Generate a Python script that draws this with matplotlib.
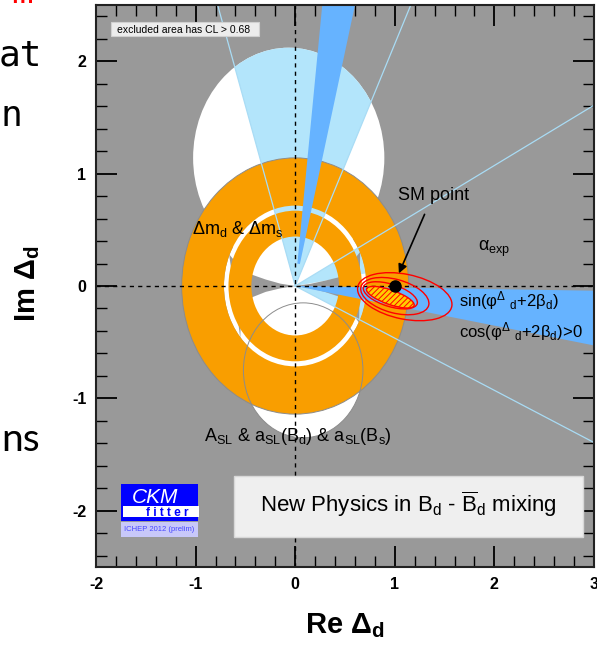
import numpy as np
import matplotlib.pyplot as plt
from matplotlib.patches import Ellipse, Wedge, Polygon, Rectangle
from matplotlib.ticker import MultipleLocator

plt.rcParams['font.family'] = ['Liberation Sans', 'DejaVu Sans']
plt.rcParams['mathtext.default'] = 'regular'
plt.rcParams['axes.unicode_minus'] = False
plt.rcParams['hatch.linewidth'] = 0.7

# ---- data ----
x_range = [-2, 3]
y_range = [-2.5, 2.5]
x_ticks = [-2, -1, 0, 1, 2, 3]
y_ticks = [-2, -1, 0, 1, 2]

# A_SL allowed region (white): two ellipses + the inner disk
asl_cx = [-0.065, 0.08]
asl_cy = [1.14, -0.75]
asl_rx = [0.96, 0.60]
asl_ry = [0.98, 0.60]
asl_disk_r = 0.715

# gray "bow tie" near the origin (radius, boundary angles in degrees)
bow_r = [0.0, 0.15, 0.30, 0.44, 0.60, 0.72]
bow_left_hi = [176, 172, 169, 167, 162, 157]
bow_left_lo = [184, 188, 190, 193, 205, 220]
bow_right_hi = [4, 7, 9, 10, 20, 25]
bow_right_lo = [-4, -8, -10, -12, -22, -27]

# delta m_d & delta m_s annuli (inner radius, outer radius)
dm_r_in = [0.44, 0.715]
dm_r_out = [0.67, 1.14]

# alpha_exp wedges and their boundary lines (degrees)
alpha_lo = [65.1, 9.0, -24.9]
alpha_hi = [107.3, 28.2, -9.0]
alpha_lines = [107.3, 65.1, 28.2, -24.9]

# sin(phi+2beta) wedges (degrees, inner radius)
sin_lo = [-10.0, 76.5]
sin_hi = [-0.8, 83.8]
sin_rmin = [0.0, 0.2]

# fit result: filled 68% region and three red contours (cx, cy, a, b, angle)
fit_fill = [0.955, -0.10, 0.25, 0.065, -17]
cont_cx = [0.955, 1.0, 1.1]
cont_cy = [-0.083, -0.09, -0.095]
cont_a = [0.28, 0.35, 0.48]
cont_b = [0.10, 0.15, 0.20]
cont_ang = [-15, -13, -10]

sm_x, sm_y = 1.0, 0.0

gray_bg = '#999999'
light_blue = '#b3e5fb'
mid_blue = '#66b3ff'
orange = '#f99e00'

fig = plt.figure(figsize=(5.97, 6.45), dpi=100)
ax = fig.add_axes([96/597, 78/645, 498/597, 562/645])
ax.set_facecolor(gray_bg)
ax.set_xlim(x_range)
ax.set_ylim(y_range)

# white A_SL region
white_patches = []
for cx, cy, rx, ry in zip(asl_cx, asl_cy, asl_rx, asl_ry):
    p = Ellipse((cx, cy), 2*rx, 2*ry, fc='white', ec='none', zorder=1)
    ax.add_patch(p)
    white_patches.append(p)
disk = Wedge((0, 0), asl_disk_r, 0, 360, fc='white', ec='none', zorder=1)
ax.add_patch(disk)
white_patches.append(disk)

# alpha wedges, only where A_SL is allowed
for wp in white_patches:
    for lo, hi in zip(alpha_lo, alpha_hi):
        w = Wedge((0, 0), 4, lo, hi, fc=light_blue, ec='none', zorder=2)
        ax.add_patch(w)
        w.set_clip_path(wp)


def bowtie(r, hi, lo):
    r = np.array(r)
    hi = np.radians(hi)
    lo = np.radians(lo)
    xs = np.concatenate([r*np.cos(hi), (r*np.cos(lo))[::-1]])
    ys = np.concatenate([r*np.sin(hi), (r*np.sin(lo))[::-1]])
    return Polygon(np.column_stack([xs, ys]), closed=True, fc=gray_bg, ec='none', zorder=3)


ax.add_patch(bowtie(bow_r, bow_left_hi, bow_left_lo))
ax.add_patch(bowtie(bow_r, bow_right_hi, bow_right_lo))

# delta m annuli
for r_in, r_out in zip(dm_r_in, dm_r_out):
    ax.add_patch(Wedge((0, 0), r_out, 0, 360, width=r_out - r_in, fc=orange,
                       ec='none', zorder=4))
ax.add_patch(Wedge((0, 0), dm_r_out[-1], 0, 360, fc='none', ec='#8c8c8c', lw=0.7, zorder=4))

# sin(phi+2beta) wedges
for lo, hi, rmin in zip(sin_lo, sin_hi, sin_rmin):
    ax.add_patch(Wedge((0, 0), 4, lo, hi, width=4 - rmin, fc=mid_blue, ec='none', zorder=5))

# alpha lines
for a in alpha_lines:
    t = np.radians(a)
    ax.plot([0, 4*np.cos(t)], [0, 4*np.sin(t)], color='#a9dcf5', lw=0.9, zorder=6)

# outline of the lower A_SL circle
ax.add_patch(Ellipse((asl_cx[1], asl_cy[1]), 2*asl_rx[1], 2*asl_ry[1], fc='none',
                     ec='#8c8c8c', lw=0.7, zorder=6))

ax.axhline(0, color='k', lw=1, ls=(0, (3, 3)), zorder=7)
ax.axvline(0, color='k', lw=1, ls=(0, (3, 3)), zorder=7)

# fit contours
for cx, cy, a, b, ang in zip(cont_cx, cont_cy, cont_a, cont_b, cont_ang):
    ax.add_patch(Ellipse((cx, cy), 2*a, 2*b, angle=ang, fc='none', ec='red', lw=1, zorder=8))
ax.add_patch(Ellipse((fit_fill[0], fit_fill[1]), 2*fit_fill[2], 2*fit_fill[3], angle=fit_fill[4],
                     fc='#ffcc00', ec='red', hatch='//////', lw=1, zorder=8))

ax.plot(sm_x, sm_y, 'o', color='k', ms=8, zorder=9)
ax.annotate('', xy=(1.03, 0.09), xytext=(1.31, 0.66),
            arrowprops=dict(arrowstyle='-|>', color='k', lw=1.2, mutation_scale=13), zorder=9)

# labels
ax.text(1.035, 0.765, 'SM point', fontsize=13, zorder=9)
ax.text(-1.035, 0.46, 'Δm$_{d}$ & Δm$_{s}$', fontsize=13, zorder=9)
ax.text(1.84, 0.31, 'α$_{exp}$', fontsize=13, zorder=9)
ax.text(1.64, -0.18, 'sin(φ$^{Δ}$ $_{d}$+2β$_{d}$)', fontsize=12, zorder=9)
ax.text(1.64, -0.46, 'cos(φ$^{Δ}$ $_{d}$+2β$_{d}$)>0', fontsize=12, zorder=9)
ax.text(-0.92, -1.376, 'A$_{SL}$ & a$_{SL}$(B$_{d}$) & a$_{SL}$(B$_{s}$)', fontsize=13, zorder=9)

# boxes
ax.add_patch(Rectangle((-1.85, 2.22), 1.49, 0.13, fc='#ececec', ec='#d0d0d0', lw=0.8, zorder=10))
ax.text(-1.79, 2.25, 'excluded area has CL > 0.68', fontsize=7.5, zorder=11)
ax.add_patch(Rectangle((-0.61, -2.23), 3.5, 0.54, fc='#efefef', ec='#d8d8d8', lw=1, zorder=10))
ax.text(1.13, -2.01, 'New Physics in B$_{d}$ - $\\overline{B}_{d}$ mixing', fontsize=16,
        ha='center', zorder=11)

# CKMfitter logo
ax.add_patch(Rectangle((-1.75, -2.09), 0.77, 0.33, fc='#0000ff', ec='none', zorder=10))
ax.add_patch(Rectangle((-1.73, -2.055), 0.76, 0.095, fc='white', ec='none', zorder=11))
ax.text(-1.41, -1.93, 'CKM', color='white', style='italic', fontsize=15, ha='center', zorder=12)
ax.text(-1.28, -2.045, 'f i t t e r', color='#0000ff', fontweight='bold', fontsize=8.5,
        ha='center', zorder=12)
ax.add_patch(Rectangle((-1.75, -2.235), 0.77, 0.135, fc='#c8c8fa', ec='none', zorder=10))
ax.text(-1.365, -2.167, 'ICHEP 2012 (prelim)', color='#4646ff', fontsize=5.5,
        ha='center', va='center', zorder=11)

# axes styling
ax.set_xticks(x_ticks)
ax.set_yticks(y_ticks)
ax.xaxis.set_minor_locator(MultipleLocator(0.2))
ax.yaxis.set_minor_locator(MultipleLocator(0.2))
ax.tick_params(which='both', direction='in', top=True, right=True, zorder=12)
ax.tick_params(which='major', length=15, width=1.3, labelsize=11.5, pad=7)
ax.tick_params(which='minor', length=8, width=1)
for lab in ax.get_xticklabels() + ax.get_yticklabels():
    lab.set_fontweight('bold')
for s in ax.spines.values():
    s.set_linewidth(1.5)
    s.set_color('#222222')
    s.set_zorder(12)

fig.text(345/597, 1 - 633/645, 'Re Δ$_{d}$', fontsize=21, fontweight='bold', ha='center',
         va='baseline')
fig.text(28/597, 1 - 284/645, 'Im Δ$_{d}$', fontsize=21, fontweight='bold', rotation=90,
         ha='center', va='center')

# cut-off slide text on the left
fig.text(42/597, 1 - 66/645, 'at', fontsize=26, family='DejaVu Sans Mono', ha='right',
         va='baseline')
fig.text(22/597, 1 - 126/645, 'n', fontsize=26, family='DejaVu Sans Mono', ha='right',
         va='baseline')
fig.text(1/597, 1 - 451/645, 'ns', fontsize=28, family='Lato', ha='left', va='baseline')
fig.text(33/597, 1 - 3/645, 'm', fontsize=26, family='DejaVu Sans Mono', color='red',
         ha='right', va='baseline')

fig.savefig('out.png', dpi=100)
